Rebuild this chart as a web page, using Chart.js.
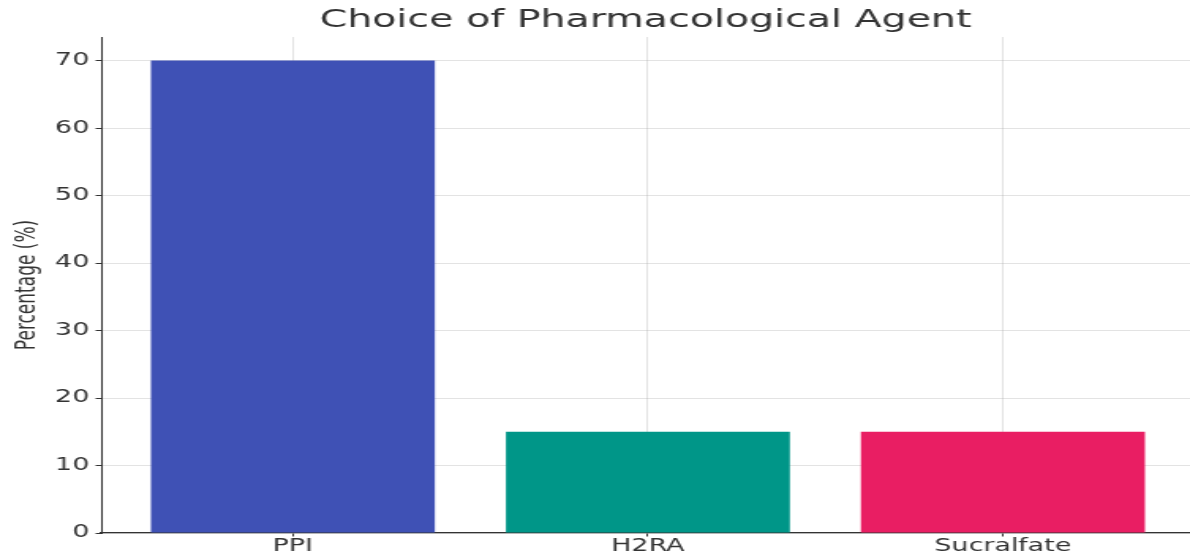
<!DOCTYPE html>
<html>
<head>
<meta charset="utf-8">
<title>Choice of Pharmacological Agent</title>
<script src="https://cdn.jsdelivr.net/npm/chart.js@4"></script>
<style>
    html, body { margin: 0; padding: 0; background: #ffffff; overflow: hidden; }
</style>
</head>
<body>
<!-- drawn narrow, then stretched wide like the original picture -->
<canvas id="chart" width="753" height="557" style="width:1190px;height:557px;display:block"></canvas>
<script>
// chart data
const categories = ['PPI', 'H2RA', 'Sucralfate'];
const percentages = [70, 15, 15];
const barColors = ['#3F51B5', '#009688', '#E91E63'];
const yTicks = [0, 10, 20, 30, 40, 50, 60, 70];

const textColor = '#333333';
const gridColor = 'rgba(176, 176, 176, 0.35)';

/**
 * Build the point list for a bar chart on a linear x axis
 */
function buildPoints() {
    return categories.map((name, i) => {
        return { x: i, y: percentages[i] };
    });
}

const ctx = document.getElementById('chart').getContext('2d');

const chart = new Chart(ctx, {
    type: 'bar',
    data: {
        datasets: [{
            label: 'Percentage',
            data: buildPoints(),
            backgroundColor: barColors,
            borderWidth: 0,
            barPercentage: 0.8,
            categoryPercentage: 1.0
        }]
    },
    options: {
        responsive: false,
        devicePixelRatio: 1,
        animation: false,
        layout: {
            padding: 0
        },
        plugins: {
            legend: { display: false },
            tooltip: { enabled: false },
            title: {
                display: true,
                text: 'Choice of Pharmacological Agent',
                fullSize: false,
                color: textColor,
                font: { family: 'DejaVu Sans', size: 25, weight: 'normal' },
                padding: { top: 5, bottom: 2 }
            }
        },
        scales: {
            x: {
                type: 'linear',
                z: 1,
                offset: false,
                min: -0.54,
                max: 2.527,
                afterBuildTicks: (scale) => {
                    scale.ticks = categories.map((name, i) => ({ value: i }));
                },
                afterFit: (scale) => { scale.height = 24; },
                ticks: {
                    color: textColor,
                    padding: 0,
                    font: { family: 'DejaVu Sans', size: 17 },
                    callback: (value) => categories[value] ?? ''
                },
                grid: {
                    offset: false,
                    color: gridColor,
                    tickColor: textColor,
                    tickLength: 3.5
                },
                border: {
                    color: textColor,
                    width: 1.3
                }
            },
            y: {
                z: 1,
                min: 0,
                max: 73.5,
                afterBuildTicks: (scale) => {
                    scale.ticks = yTicks.map(v => ({ value: v }));
                },
                afterFit: (scale) => { scale.width = 64; },
                title: {
                    display: true,
                    text: 'Percentage (%)',
                    color: textColor,
                    font: { family: 'DejaVu Sans', size: 17 },
                    padding: { top: 7, bottom: 0 }
                },
                ticks: {
                    color: textColor,
                    padding: 4,
                    font: { family: 'DejaVu Sans', size: 17 }
                },
                grid: {
                    color: gridColor,
                    tickColor: textColor,
                    tickLength: 3.5
                },
                border: {
                    color: textColor,
                    width: 1
                }
            }
        }
    }
});
</script>
</body>
</html>
